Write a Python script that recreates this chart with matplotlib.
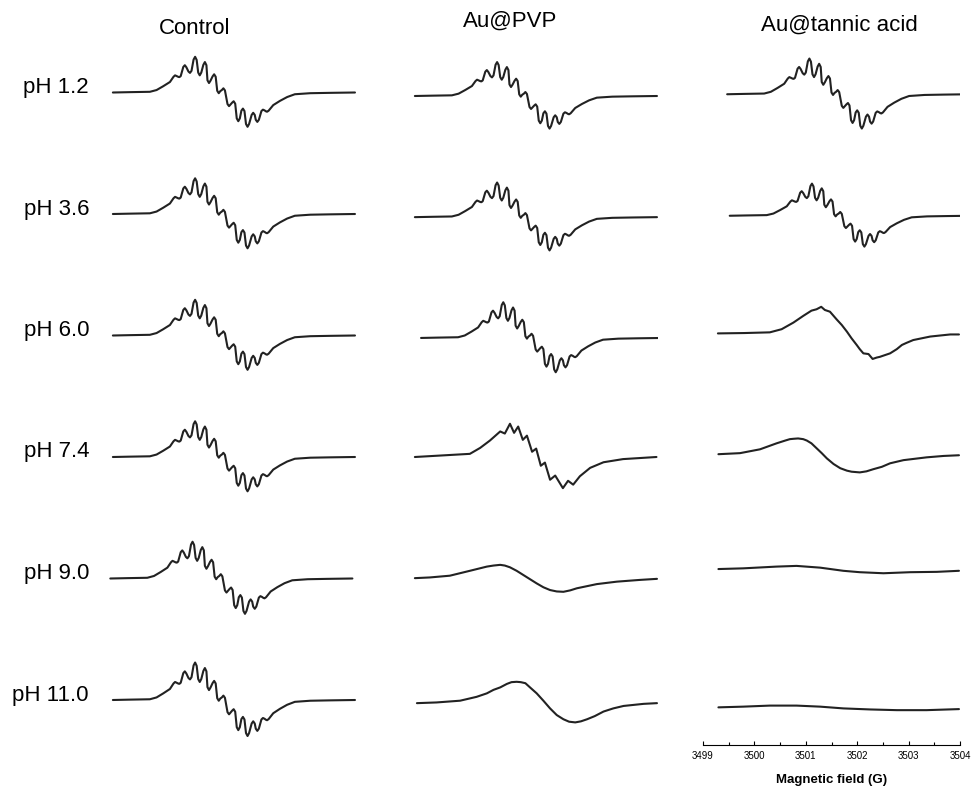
"""EPR spectra of the DMPO/radical adduct: Control, Au@PVP and Au@tannic acid at six pH values."""
import numpy as np
import matplotlib
matplotlib.use("Agg")
import matplotlib.pyplot as plt

plt.rcParams["font.family"] = ["Liberation Sans", "DejaVu Sans"]

SAMPLES = ["Control", "Au@PVP", "Au@tannic acid"]
PH_LABELS = ["pH 1.2", "pH 3.6", "pH 6.0", "pH 7.4", "pH 9.0", "pH 11.0"]
FIELD_TICKS = [3499, 3500, 3501, 3502, 3503, 3504]

# traces: field (G) and signal (arb. units, baseline = 0)
# hyperfine spectrum (Control, pH 1.2) -- reused for the other structured panels
HF_FIELD = [3499.27, 3499.60, 3499.99, 3500.12, 3500.25, 3500.38,
            3500.45, 3500.48, 3500.51, 3500.545, 3500.565, 3500.59,
            3500.64, 3500.67, 3500.70, 3500.74, 3500.77, 3500.80,
            3500.84, 3500.87, 3500.90, 3500.93, 3500.96, 3500.99,
            3501.03, 3501.06, 3501.09, 3501.11, 3501.14, 3501.17,
            3501.21, 3501.24, 3501.27, 3501.30, 3501.33, 3501.36,
            3501.39, 3501.42, 3501.45, 3501.50, 3501.53, 3501.56,
            3501.59, 3501.62, 3501.65, 3501.68, 3501.71, 3501.74,
            3501.77, 3501.80, 3501.83, 3501.86, 3501.89, 3501.92,
            3501.97, 3502.00, 3502.03, 3502.05, 3502.08, 3502.11,
            3502.16, 3502.19, 3502.22, 3502.25, 3502.27, 3502.30,
            3502.39, 3502.52, 3502.66, 3502.81, 3503.11, 3503.49, 3503.98]
HF_SIGNAL = [0.00, 0.01, 0.02, 0.07, 0.18, 0.30,
             0.45, 0.49, 0.47, 0.445, 0.44, 0.47,
             0.73, 0.78, 0.72, 0.60, 0.56, 0.62,
             0.94, 1.02, 0.93, 0.57, 0.49, 0.57,
             0.79, 0.87, 0.78, 0.35, 0.27, 0.34,
             0.46, 0.52, 0.45, 0.05, -0.02, 0.04,
             0.07, 0.12, 0.06, -0.33, -0.39, -0.34,
             -0.29, -0.25, -0.32, -0.74, -0.82, -0.74,
             -0.52, -0.46, -0.53, -0.90, -0.98, -0.90,
             -0.64, -0.58, -0.64, -0.78, -0.84, -0.78,
             -0.53, -0.49, -0.51, -0.54, -0.55, -0.52,
             -0.36, -0.24, -0.13, -0.05, -0.02, -0.01, 0.00]

# Au@PVP, pH 7.4 (weaker hyperfine lines)
PVP74_FIELD = [3499.27, 3500.34, 3500.54, 3500.73, 3500.93, 3501.02, 3501.12, 3501.20,
               3501.28, 3501.37, 3501.45, 3501.55, 3501.63, 3501.72, 3501.80, 3501.90,
               3502.00, 3502.15, 3502.25, 3502.35, 3502.48, 3502.68, 3502.94, 3503.32, 3503.97]
PVP74_SIGNAL = [0.00, 0.09, 0.26, 0.47, 0.73, 0.67, 0.95, 0.69,
                0.87, 0.49, 0.61, 0.15, 0.24, -0.25, -0.16, -0.65,
                -0.53, -0.89, -0.68, -0.79, -0.55, -0.31, -0.15, -0.06, 0.00]

# Au@PVP, pH 9.0
PVP90_FIELD = [3499.27, 3499.56, 3499.95, 3500.34, 3500.67, 3500.80, 3500.93, 3501.02,
               3501.12, 3501.25, 3501.38, 3501.51, 3501.64, 3501.77, 3501.90, 3502.03,
               3502.16, 3502.29, 3502.42, 3502.81, 3503.20, 3503.65, 3503.98]
PVP90_SIGNAL = [0.01, 0.03, 0.08, 0.22, 0.34, 0.37, 0.39, 0.37,
                0.32, 0.22, 0.10, -0.02, -0.14, -0.25, -0.33, -0.37,
                -0.38, -0.34, -0.28, -0.16, -0.09, -0.04, -0.01]

# Au@PVP, pH 11.0
PVP110_FIELD = [3499.31, 3499.69, 3500.15, 3500.47, 3500.67, 3500.80, 3500.93, 3501.06,
                3501.15, 3501.25, 3501.33, 3501.42, 3501.51, 3501.64, 3501.77, 3501.90,
                3502.03, 3502.16, 3502.27, 3502.39, 3502.50, 3502.62, 3502.77, 3502.94,
                3503.13, 3503.33, 3503.72, 3503.98]
PVP110_SIGNAL = [-0.09, -0.07, -0.02, 0.09, 0.19, 0.29, 0.36, 0.46,
                 0.51, 0.52, 0.51, 0.48, 0.36, 0.19, -0.02, -0.24,
                 -0.43, -0.55, -0.62, -0.64, -0.61, -0.55, -0.46, -0.33,
                 -0.24, -0.17, -0.11, -0.09]

# Au@tannic acid, pH 6.0
TA60_FIELD = [3499.29, 3499.80, 3500.30, 3500.53, 3500.76, 3500.95, 3501.11, 3501.21,
              3501.30, 3501.37, 3501.47, 3501.60, 3501.70, 3501.80, 3501.89, 3501.99,
              3502.05, 3502.12, 3502.22, 3502.30, 3502.38, 3502.44, 3502.54, 3502.64,
              3502.77, 3502.87, 3502.96, 3503.09, 3503.42, 3503.81, 3503.98]
TA60_SIGNAL = [0.06, 0.07, 0.09, 0.18, 0.37, 0.56, 0.71, 0.75,
               0.82, 0.73, 0.68, 0.46, 0.30, 0.11, -0.08, -0.27,
               -0.39, -0.51, -0.53, -0.67, -0.63, -0.61, -0.56, -0.51,
               -0.39, -0.27, -0.21, -0.13, -0.03, 0.03, 0.03]

# Au@tannic acid, pH 7.4
TA74_FIELD = [3499.30, 3499.72, 3500.11, 3500.43, 3500.60, 3500.69, 3500.76, 3500.85,
              3500.95, 3501.02, 3501.11, 3501.21, 3501.31, 3501.41, 3501.54, 3501.67,
              3501.80, 3501.89, 3502.05, 3502.18, 3502.31, 3502.48, 3502.64, 3502.90,
              3503.35, 3503.68, 3503.98]
TA74_SIGNAL = [0.08, 0.11, 0.22, 0.39, 0.47, 0.51, 0.52, 0.53,
               0.51, 0.47, 0.39, 0.25, 0.11, -0.04, -0.20, -0.32,
               -0.39, -0.42, -0.44, -0.41, -0.35, -0.28, -0.18, -0.09,
               -0.01, 0.03, 0.05]

# Au@tannic acid, pH 9.0 and 11.0 (almost flat)
TA90_FIELD = [3499.30, 3499.78, 3500.43, 3500.82, 3501.28, 3501.73, 3502.05, 3502.51,
              3503.03, 3503.55, 3503.98]
TA90_SIGNAL = [0.27, 0.29, 0.34, 0.36, 0.31, 0.22, 0.18, 0.15, 0.18, 0.19, 0.22]
TA110_FIELD = [3499.30, 3499.78, 3500.30, 3500.82, 3501.28, 3501.73, 3502.25, 3502.77,
               3503.35, 3503.98]
TA110_SIGNAL = [-0.21, -0.19, -0.16, -0.16, -0.19, -0.24, -0.27, -0.29, -0.29, -0.26]

# panels that reuse the hyperfine trace: scale, field shift (G), baseline offset
HF_SCALE = [[1.00, 0.95, 1.00],
            [1.00, 0.97, 0.90],
            [1.00, 1.00, None],
            [1.00, None, None],
            [1.03, None, None],
            [1.05, None, None]]
HF_SHIFT = [[0.00, 0.00, 0.20],
            [0.00, 0.00, 0.25],
            [0.00, 0.12, None],
            [0.00, None, None],
            [-0.05, None, None],
            [0.00, None, None]]
HF_OFFSET = [[0.00, -0.10, -0.05],
             [0.00, -0.09, -0.05],
             [0.00, -0.07, None],
             [0.00, None, None],
             [0.00, None, None],
             [0.00, None, None]]

OWN_TRACES = {(3, 1): (PVP74_FIELD, PVP74_SIGNAL),
              (4, 1): (PVP90_FIELD, PVP90_SIGNAL),
              (5, 1): (PVP110_FIELD, PVP110_SIGNAL),
              (2, 2): (TA60_FIELD, TA60_SIGNAL),
              (3, 2): (TA74_FIELD, TA74_SIGNAL),
              (4, 2): (TA90_FIELD, TA90_SIGNAL),
              (5, 2): (TA110_FIELD, TA110_SIGNAL)}

W, H = 973, 786
fig = plt.figure(figsize=(W / 100, H / 100), dpi=100)

PX = 35.0                 # pixels per signal unit
col_left = [99, 401, 703]
row_base = [92.5 + 121.5 * k for k in range(6)]
LINE = "#222222"

for r in range(6):
    for c in range(3):
        top, bot = row_base[r] - 60, row_base[r] + 45
        ax = fig.add_axes([col_left[c] / W, 1 - bot / H, 257 / W, (bot - top) / H])
        if (r, c) in OWN_TRACES:
            x, y = OWN_TRACES[(r, c)]
            x, y = np.asarray(x), np.asarray(y)
        else:
            x = np.asarray(HF_FIELD) + HF_SHIFT[r][c]
            y = np.asarray(HF_SIGNAL) * HF_SCALE[r][c] + HF_OFFSET[r][c]
        ax.plot(x, y, color=LINE, lw=1.5, solid_joinstyle="round", solid_capstyle="round")
        ax.set_xlim(FIELD_TICKS[0], FIELD_TICKS[-1])
        ax.set_ylim(-45 / PX, 60 / PX)
        for s in ("left", "right", "top"):
            ax.spines[s].set_visible(False)
        ax.set_yticks([])
        if r == 5 and c == 2:
            ax.spines["bottom"].set_linewidth(0.8)
            ax.set_xticks(FIELD_TICKS)
            ax.set_xticks(np.arange(3499.5, 3504, 1.0), minor=True)
            ax.tick_params(axis="x", which="major", direction="in", length=3,
                           width=0.8, labelsize=7, pad=4)
            ax.tick_params(axis="x", which="minor", direction="in", length=2, width=0.8)
            ax.set_xlabel("Magnetic field (G)", fontsize=9.5, fontweight="bold", labelpad=10)
        else:
            ax.spines["bottom"].set_visible(False)
            ax.set_xticks([])
        ax.patch.set_alpha(0)

# row labels and column titles
for r, lab in enumerate(PH_LABELS):
    fig.text(89 / W, 1 - (row_base[r] - 5) / H, lab, ha="right", va="center", fontsize=16)
for name, (cx, cy) in zip(SAMPLES, [(195, 29), (510, 21), (839, 25)]):
    fig.text(cx / W, 1 - cy / H, name, ha="center", va="center", fontsize=16)

fig.savefig("out.png", dpi=100)
